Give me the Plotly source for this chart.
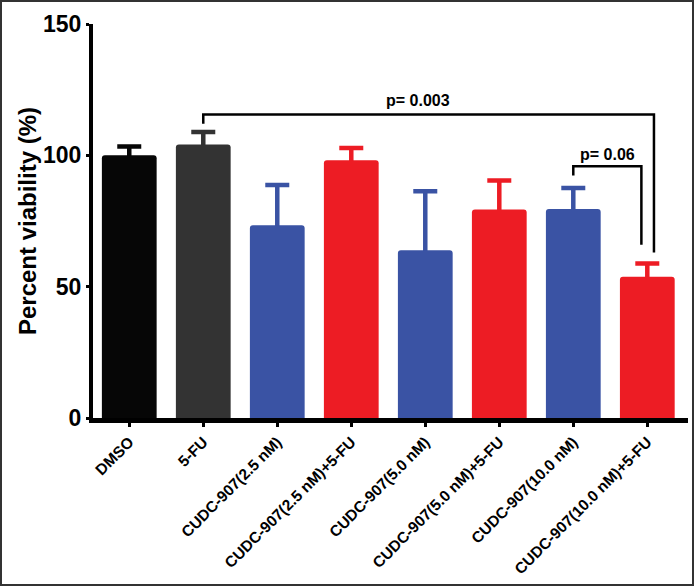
import plotly.graph_objects as go

categories = ["DMSO", "5-FU", "CUDC-907(2.5 nM)", "CUDC-907(2.5 nM)+5-FU",
              "CUDC-907(5.0 nM)", "CUDC-907(5.0 nM)+5-FU",
              "CUDC-907(10.0 nM)", "CUDC-907(10.0 nM)+5-FU"]
means = [100.0, 104.1, 73.4, 98.1, 63.9, 79.4, 79.6, 53.8]
errors = [3.4, 4.8, 15.3, 4.7, 22.4, 11.0, 8.0, 5.0]
colors = ["#060606", "#333333", "#3A53A4", "#ED1C24",
          "#3A53A4", "#ED1C24", "#3A53A4", "#ED1C24"]
y_ticks = [0, 50, 100, 150]

# significance brackets: (left index, right index), bar height, leg ends, label
bracket_left = [1, 6]
bracket_right = [7, 7]
bracket_right_shift = [0.09, -0.08]
bracket_top = [115.5, 95.8]
bracket_left_end = [112.0, 92.3]
bracket_right_end = [63.0, 66.0]
bracket_labels = ["p= 0.003", "p= 0.06"]
label_x = [3.9, 6.46]
label_y = [120.8, 100.5]

FONT = "Arial, Liberation Sans, sans-serif"
fig = go.Figure()
x_idx = list(range(len(categories)))
for i, (m, e, c) in enumerate(zip(means, errors, colors)):
    # error bar carrier (drawn first, lower half hidden by the bar on top)
    fig.add_trace(go.Bar(
        x=[x_idx[i]], y=[m], width=0.74,
        marker=dict(color="rgba(0,0,0,0)", line=dict(width=0)),
        error_y=dict(type="data", array=[e], color=c, thickness=4.5, width=12),
        showlegend=False, hoverinfo="skip"))
    fig.add_trace(go.Bar(
        x=[x_idx[i]], y=[m], width=0.74,
        marker=dict(color=c, line=dict(width=0), cornerradius=3),
        showlegend=False, hoverinfo="skip"))

for l, r, rs, top, le, re_, lab, lx, ly in zip(bracket_left, bracket_right, bracket_right_shift,
                                               bracket_top, bracket_left_end, bracket_right_end,
                                               bracket_labels, label_x, label_y):
    fig.add_trace(go.Scatter(
        x=[l, l, r + rs, r + rs], y=[le, top, top, re_],
        mode="lines", line=dict(color="black", width=2.5),
        showlegend=False, hoverinfo="skip"))
    fig.add_annotation(x=lx, y=ly, text=lab, showarrow=False,
                       font=dict(family=FONT, size=16, color="black", weight="bold"),
                       xanchor="center", yanchor="middle")

W, H = 694, 586
L, R, T, B = 93, 6, 24, 168
pw, ph = W - L - R, H - T - B
fig.add_shape(type="rect", xref="paper", yref="paper",
              x0=-(L - 1) / pw, x1=1 + (R - 1) / pw,
              y0=-(B - 1) / ph, y1=1 + (T - 1) / ph,
              line=dict(color="#333333", width=2), fillcolor="rgba(0,0,0,0)", layer="below")

fig.update_layout(
    width=W, height=H,
    margin=dict(l=L, r=R, t=T, b=B, autoexpand=False),
    plot_bgcolor="white", paper_bgcolor="white",
    barmode="overlay",
    xaxis=dict(range=[-0.49, 7.55], tickmode="array", tickvals=x_idx, ticktext=categories,
               tickangle=-45, showline=True, linecolor="black", linewidth=5,
               ticks="outside", ticklen=4, tickwidth=3, tickcolor="black",
               showgrid=False, zeroline=False,
               tickfont=dict(family=FONT, size=15.5, color="black", weight="bold")),
    yaxis=dict(range=[0, 150], tickmode="array", tickvals=y_ticks,
               showline=True, linecolor="black", linewidth=4,
               ticks="outside", ticklen=3, tickwidth=3, tickcolor="black",
               showgrid=False, zeroline=False,
               tickfont=dict(family=FONT, size=23, color="black", weight="bold"),
               title=dict(text="Percent viability (%)", standoff=1,
                          font=dict(family=FONT, size=24, color="black", weight="bold"))),
)
fig.write_html("out.html", config={"displayModeBar": False},
               post_script="document.body.style.margin='0';document.body.style.overflow='hidden';")
